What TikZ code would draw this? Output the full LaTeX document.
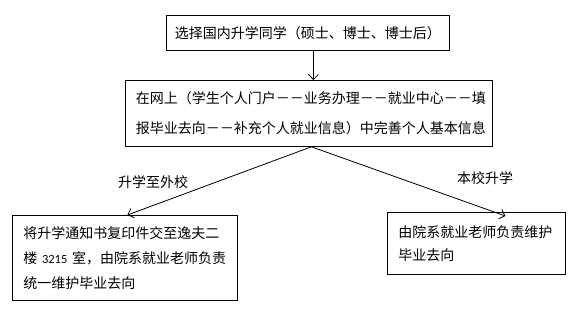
\documentclass[tikz,border=0pt]{standalone}
\usepackage{fontspec}
\setmainfont{Noto Sans CJK SC}
\newfontfamily\digitfont{Carlito}
\usetikzlibrary{arrows.meta}
\tikzset{
  box/.style={draw=black, line width=0.8pt, anchor=north west, inner ysep=0pt},
  arr/.style={line width=0.8pt, -{Straight Barb[length=5pt,width=10pt,line width=0.8pt]}},
  lbl/.style={inner sep=0pt, font=\fontsize{14pt}{16pt}\selectfont}
}
\begin{document}
\begin{tikzpicture}[x=1pt,y=-1pt]
\useasboundingbox[fill=white] (0,0) rectangle (581,311);
\node[box, minimum width=283pt, minimum height=35pt, font=\fontsize{14pt}{16pt}\selectfont] (top) at (166,15)
  {选择国内升学同学（硕士、博士、博士后）};
\node[box, minimum width=367pt, minimum height=66pt, inner xsep=10.5pt, text width=346pt, align=left,
      font=\fontsize{14pt}{30pt}\selectfont] (mid) at (125,80)
  {在网上（学生个人门户－－业务办理－－就业中心－－填\\报毕业去向－－补充个人就业信息）中完善个人基本信息};
\node[box, minimum width=225pt, minimum height=85pt, inner xsep=11pt, text width=203pt, align=left,
      font=\fontsize{14pt}{25pt}\selectfont] (lbox) at (12,215)
  {将升学通知书复印件交至逸夫二\\楼 {\digitfont\fontsize{12.5pt}{25pt}\selectfont 3215} 室，由院系就业老师负责\\统一维护毕业去向};
\node[box, minimum width=178pt, minimum height=62pt, inner xsep=11pt, text width=156pt, align=left,
      font=\fontsize{14pt}{23pt}\selectfont] (rbox) at (387,212)
  {由院系就业老师负责维护\\毕业去向};
\coordinate (br) at ([xshift=2.5pt]mid.south);
\draw[arr] ([xshift=5.5pt]top.south) -- ([xshift=4.5pt]mid.north);
\draw[arr] (br) -- ([xshift=2.5pt]lbox.north);
\draw[arr] (br) -- ([xshift=29pt,yshift=-4pt]rbox.north);
\node[lbl] (lwai) at (153,182) {升学至外校};
\node[lbl] (lben) at (485,178) {本校升学};
\end{tikzpicture}
\end{document}
